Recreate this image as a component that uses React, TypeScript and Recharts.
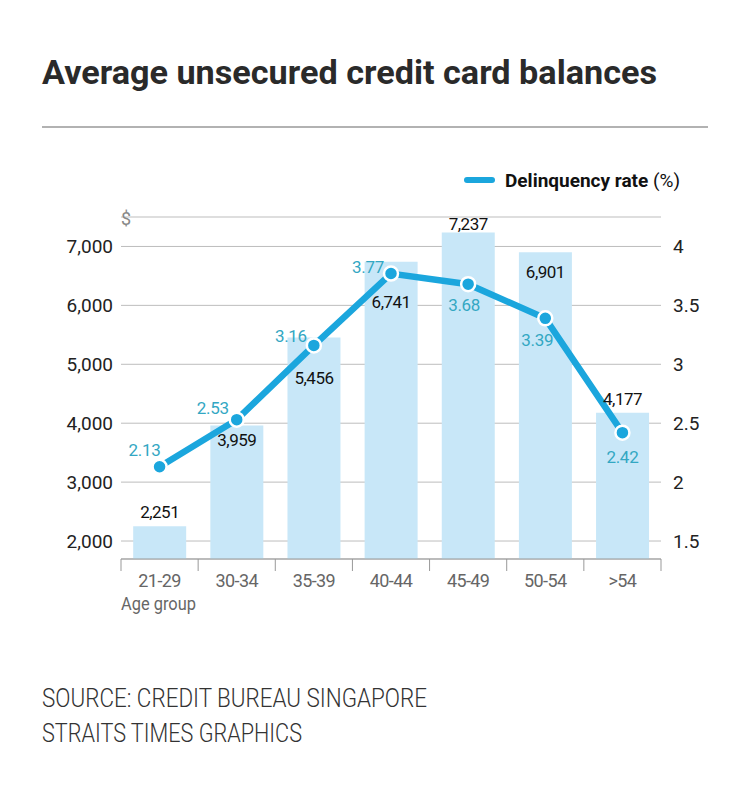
import React from 'react';
import { ComposedChart, Bar, Line, XAxis, YAxis, CartesianGrid, LabelList } from 'recharts';

// data
const ageGroups = ['21-29', '30-34', '35-39', '40-44', '45-49', '50-54', '>54'];
const balances = [2251, 3959, 5456, 6741, 7237, 6901, 4177];
const delinquency = [2.13, 2.53, 3.16, 3.77, 3.68, 3.39, 2.42];
const balanceTicks = [2000, 3000, 4000, 5000, 6000, 7000];
const rateTicks = [1.5, 2, 2.5, 3, 3.5, 4];

const data = ageGroups.map((group, i) => ({
  group,
  balance: balances[i],
  rate: delinquency[i],
}));

// layout
const W = 750;
const H = 809;
const FONT = 'Roboto, "Liberation Sans", sans-serif';
const LINE_BLUE = '#1ba6dd';
const LABEL_TEAL = '#33a7c3';
const BAR_BLUE = '#c8e7f8';
const PLOT_LEFT = 121;
const PLOT_RIGHT = 661;
const BAND = (PLOT_RIGHT - PLOT_LEFT) / ageGroups.length;

// where each value label sits relative to its mark
const barLabelDy = [-14, 14, 40, 40, -9, 20, -14];
const rateLabelShift = [
  [-15, -17],
  [-24, -12],
  [-23, -10],
  [-23, -7],
  [-4, 21],
  [-8, 22],
  [0, 24],
];

const BarValueLabel = (props: any) => {
  const { x, y, width, value } = props;
  const i = props.index ?? balances.indexOf(value);
  return (
    <text
      x={x + width / 2}
      y={y + barLabelDy[i]}
      dy="0.36em"
      textAnchor="middle"
      fontFamily={FONT}
      fontSize={17}
      letterSpacing={-0.5}
      fill="#111"
    >
      {Number(value).toLocaleString('en-US')}
    </text>
  );
};

const RateLabel = (props: any) => {
  const { x, y, value } = props;
  const i = props.index ?? delinquency.indexOf(value);
  const [dx, dy] = rateLabelShift[i];
  return (
    <text
      x={x + dx}
      y={y + dy}
      dy="0.36em"
      textAnchor="middle"
      fontFamily={FONT}
      fontSize={17}
      letterSpacing={-0.3}
      fill={LABEL_TEAL}
    >
      {value.toFixed(2)}
    </text>
  );
};

const GroupTick = (props: any) => {
  const { x, y, payload, index } = props;
  const last = index === ageGroups.length - 1;
  return (
    <g>
      <line x1={x - BAND / 2} x2={x - BAND / 2} y1={y} y2={y + 12} stroke="#999" />
      {last && <line x1={x + BAND / 2} x2={x + BAND / 2} y1={y} y2={y + 12} stroke="#999" />}
      <text
        x={x}
        y={y + 28}
        textAnchor="middle"
        fontFamily={FONT}
        fontSize={18}
        letterSpacing={-0.6}
        fill="#666"
      >
        {payload.value}
      </text>
    </g>
  );
};

export default function App() {
  return (
    <div style={{ position: 'absolute', left: 0, top: 0, width: W, height: H, background: '#fff' }}>
      <ComposedChart
        width={W}
        height={H}
        data={data}
        margin={{ top: 217, right: 29, bottom: 220, left: 61 }}
        barCategoryGap="15.8%"
      >
        <CartesianGrid yAxisId="left" vertical={false} stroke="#bdbdbd" />
        <XAxis
          dataKey="group"
          height={30}
          axisLine={{ stroke: '#999' }}
          tickLine={false}
          tickSize={0}
          tickMargin={0}
          interval={0}
          tick={<GroupTick />}
        />
        <YAxis
          yAxisId="left"
          width={60}
          domain={[1695, 7500]}
          ticks={balanceTicks}
          allowDataOverflow
          axisLine={false}
          tickLine={false}
          tickSize={0}
          tickMargin={8}
          tickFormatter={(v: number) => v.toLocaleString('en-US')}
          tick={{ fontFamily: FONT, fontSize: 19, fill: '#222' }}
        />
        <YAxis
          yAxisId="right"
          orientation="right"
          width={60}
          domain={[1.3475, 4.25]}
          ticks={rateTicks}
          allowDataOverflow
          axisLine={false}
          tickLine={false}
          tickSize={0}
          tickMargin={12}
          tickFormatter={(v: number) => String(v)}
          tick={{ fontFamily: FONT, fontSize: 19, fill: '#222' }}
        />
        <Bar yAxisId="left" dataKey="balance" fill={BAR_BLUE} isAnimationActive={false}>
          <LabelList dataKey="balance" content={<BarValueLabel />} />
        </Bar>
        <Line
          yAxisId="right"
          dataKey="rate"
          type="linear"
          stroke={LINE_BLUE}
          strokeWidth={6.5}
          dot={{ r: 7, fill: LINE_BLUE, stroke: '#fff', strokeWidth: 2.5 }}
          activeDot={false}
          isAnimationActive={false}
        >
          <LabelList dataKey="rate" content={<RateLabel />} />
        </Line>
      </ComposedChart>

      <svg
        width={W}
        height={H}
        style={{ position: 'absolute', left: 0, top: 0, pointerEvents: 'none' }}
      >
        <text
          x={42}
          y={84}
          fontFamily={FONT}
          fontSize={34}
          fontWeight={700}
          fill="#2a2a2a"
          textLength={615}
          lengthAdjust="spacingAndGlyphs"
        >
          Average unsecured credit card balances
        </text>
        <line x1={42} x2={708} y1={127} y2={127} stroke="#999" strokeWidth={1.5} />

        <line x1={467} x2={492} y1={180} y2={180} stroke={LINE_BLUE} strokeWidth={6} strokeLinecap="round" />
        <text x={505} y={187} fontFamily={FONT} fontSize={19} fill="#111">
          <tspan fontWeight={700}>Delinquency rate</tspan>
          <tspan> (%)</tspan>
        </text>

        <text x={121} y={225} fontFamily={FONT} fontSize={18} fill="#888">
          $
        </text>
        <text
          x={121}
          y={610}
          fontFamily={FONT}
          fontSize={18}
          fill="#666"
          textLength={75}
          lengthAdjust="spacingAndGlyphs"
        >
          Age group
        </text>

        <text
          x={42}
          y={707}
          fontFamily={FONT}
          fontSize={25}
          fontWeight={300}
          fill="#333"
          textLength={385}
          lengthAdjust="spacingAndGlyphs"
        >
          SOURCE: CREDIT BUREAU SINGAPORE
        </text>
        <text
          x={42}
          y={742}
          fontFamily={FONT}
          fontSize={25}
          fontWeight={300}
          fill="#333"
          textLength={260}
          lengthAdjust="spacingAndGlyphs"
        >
          STRAITS TIMES GRAPHICS
        </text>
      </svg>
    </div>
  );
}
